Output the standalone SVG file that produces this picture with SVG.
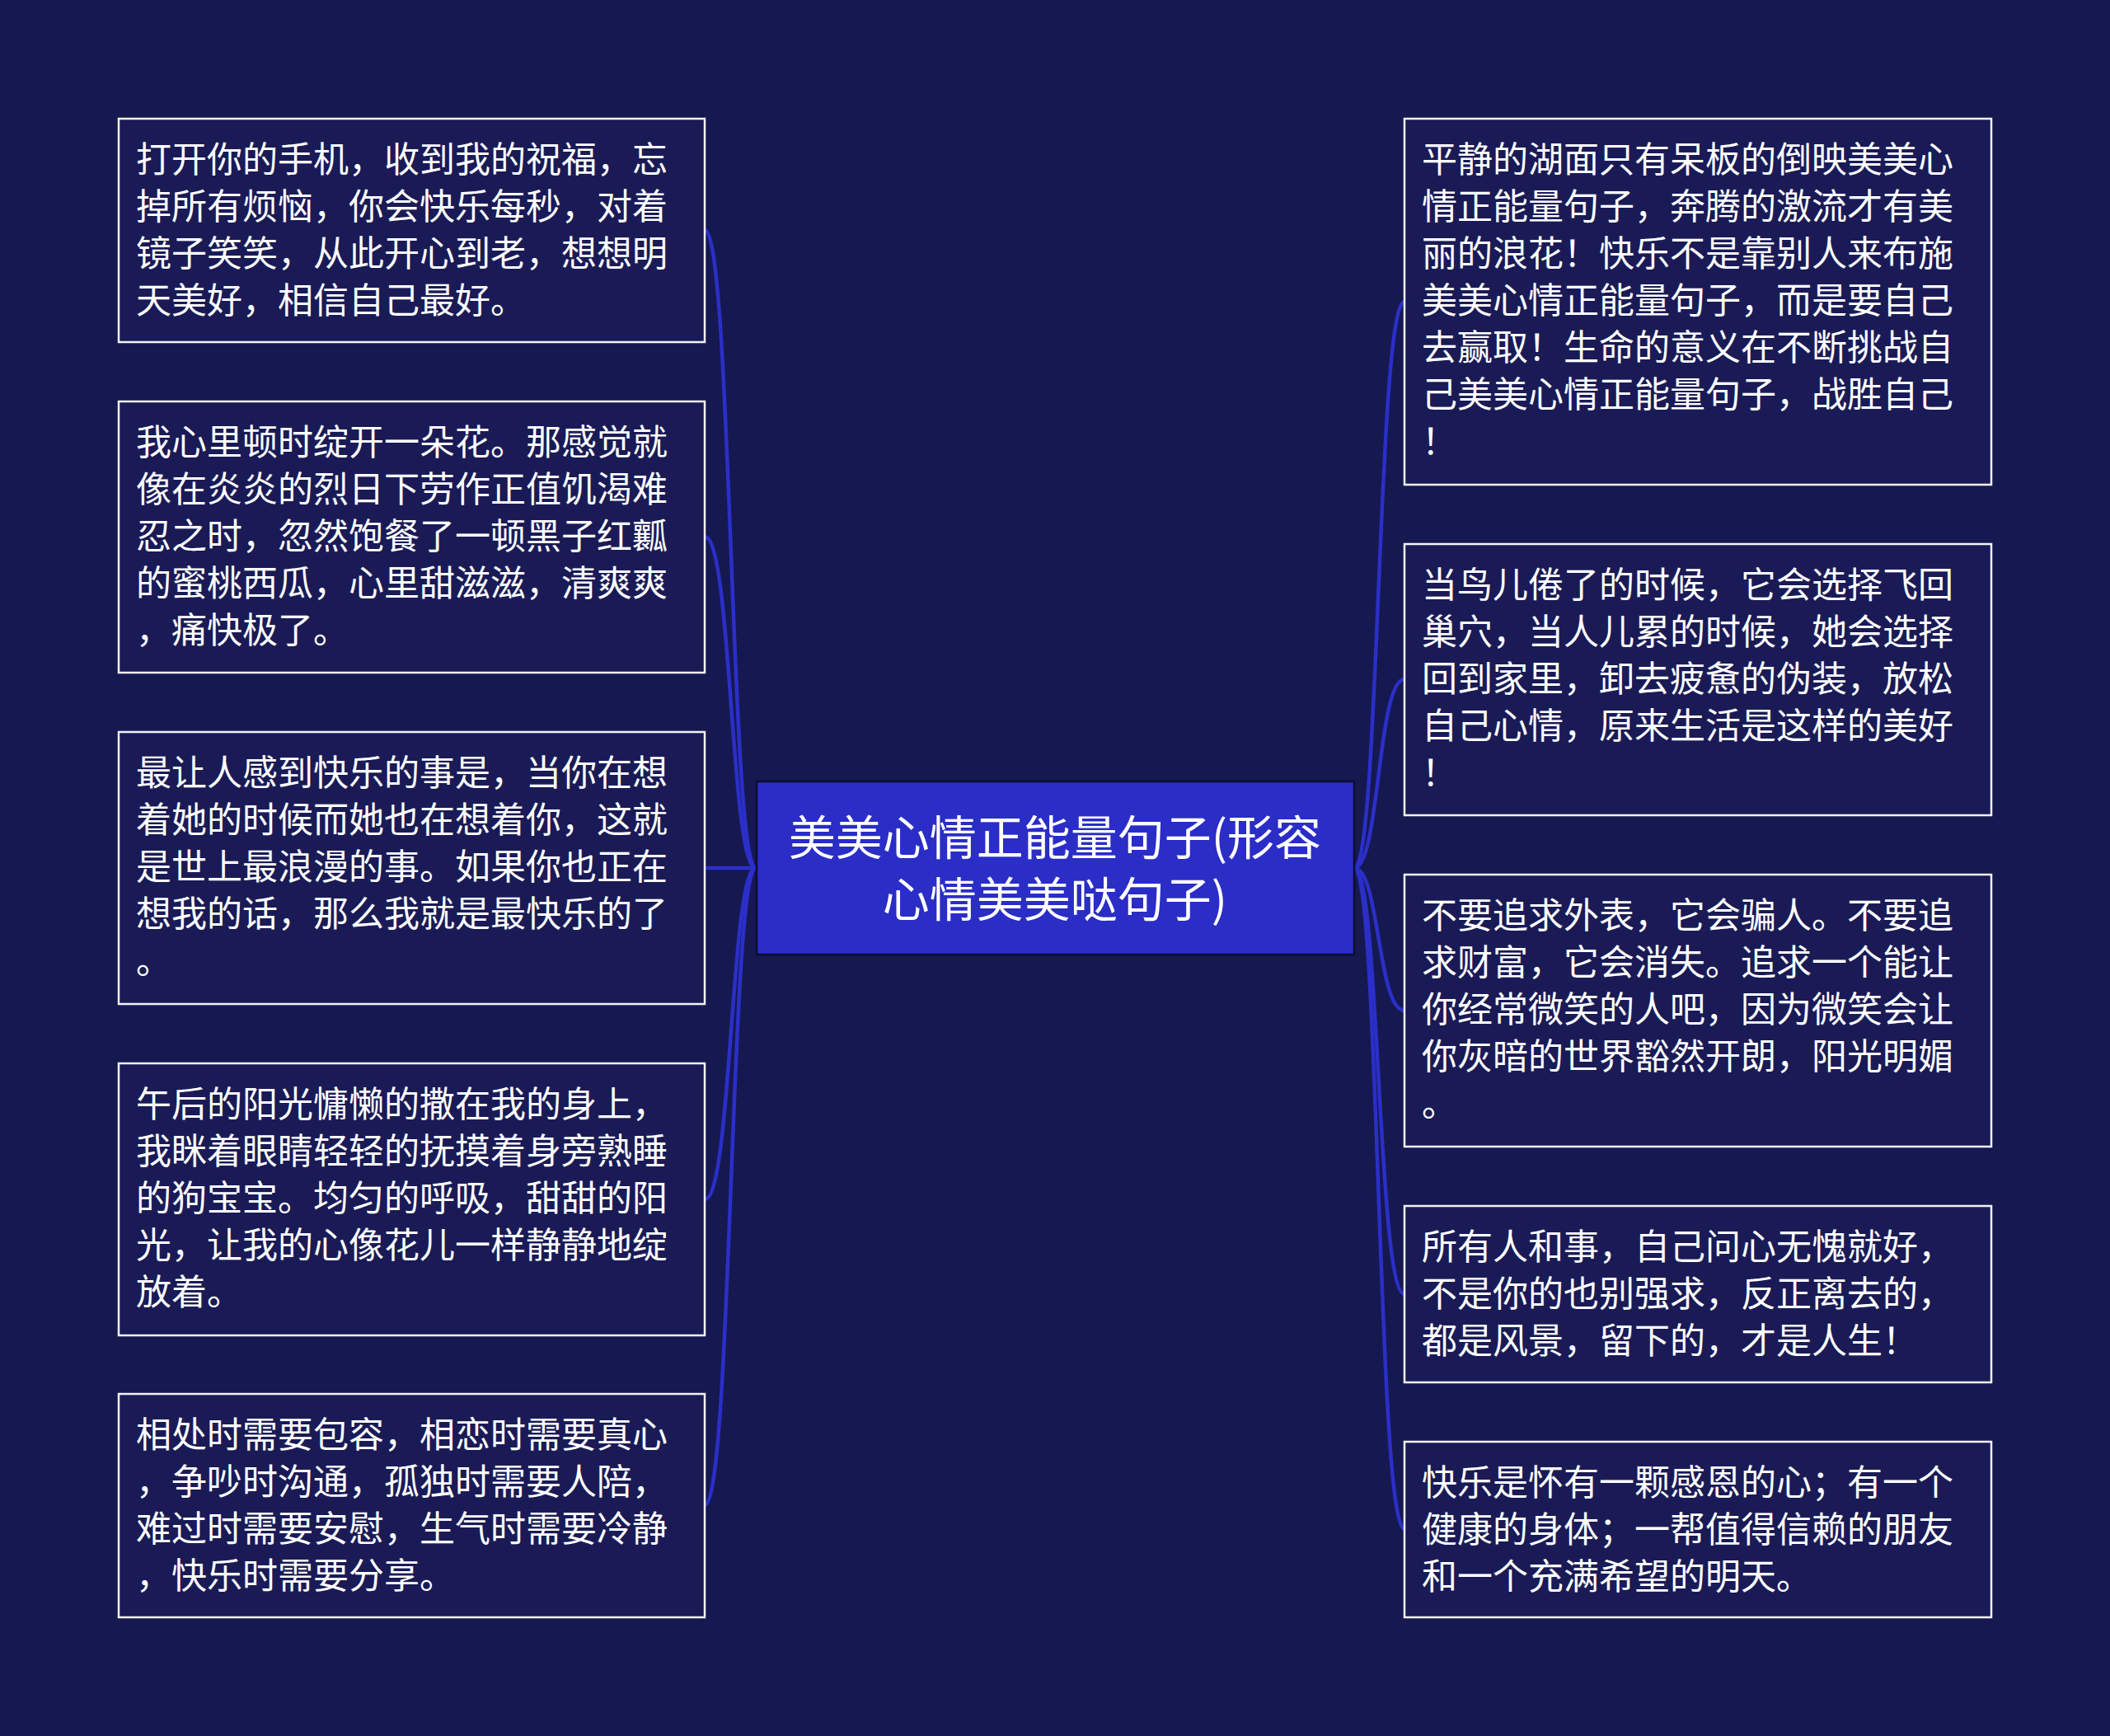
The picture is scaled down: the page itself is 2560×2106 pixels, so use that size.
<svg xmlns="http://www.w3.org/2000/svg" width="2560" height="2106" viewBox="0 0 2560 2106">
<style>
.bg{fill:#161850}
.box{fill:#1a1b56;stroke:#f2f2f7;stroke-width:2.5}
.t{font-family:"Noto Sans CJK SC","Noto Sans",sans-serif;font-size:43px;fill:#ffffff}
.ct{font-family:"Noto Sans CJK SC","Noto Sans",sans-serif;font-size:57px;fill:#ffffff;text-anchor:middle}
.c{fill:none;stroke:#2b2fc8;stroke-width:4.5;stroke-linecap:round}
</style>
<rect class="bg" x="0" y="0" width="2560" height="2106"/>
<g id="connectors">
<path class="c" d="M855 279 C888 279 886 1053 917 1053"/>
<path class="c" d="M855 651 C888 651 886 1053 917 1053"/>
<path class="c" d="M855 1053 L917 1053"/>
<path class="c" d="M855 1455 C888 1455 886 1053 917 1053"/>
<path class="c" d="M855 1826 C888 1826 886 1053 917 1053"/>
<path class="c" d="M1704 366 C1671 366 1674 1053 1643 1053"/>
<path class="c" d="M1704 824 C1671 824 1674 1053 1643 1053"/>
<path class="c" d="M1704 1226 C1671 1226 1674 1053 1643 1053"/>
<path class="c" d="M1704 1570 C1671 1570 1674 1053 1643 1053"/>
<path class="c" d="M1704 1855 C1671 1855 1674 1053 1643 1053"/>
</g>
<g id="center">
<rect x="918" y="948" width="725" height="210" fill="#2a2dc6" stroke="#0c0e30" stroke-width="2.5"/>
<text class="ct" x="1280" y="1037">美美心情正能量句子(形容</text>
<text class="ct" x="1280" y="1112">心情美美哒句子)</text>
</g>
<g id="L1">
<rect class="box" x="144" y="144" width="711" height="271"/>
<text class="t"><tspan x="165" y="209">打开你的手机，收到我的祝福，忘</tspan><tspan x="165" dy="57">掉所有烦恼，你会快乐每秒，对着</tspan><tspan x="165" dy="57">镜子笑笑，从此开心到老，想想明</tspan><tspan x="165" dy="57">天美好，相信自己最好。</tspan></text>
</g>
<g id="L2">
<rect class="box" x="144" y="487" width="711" height="329"/>
<text class="t"><tspan x="165" y="552">我心里顿时绽开一朵花。那感觉就</tspan><tspan x="165" dy="57">像在炎炎的烈日下劳作正值饥渴难</tspan><tspan x="165" dy="57">忍之时，忽然饱餐了一顿黑子红瓤</tspan><tspan x="165" dy="57">的蜜桃西瓜，心里甜滋滋，清爽爽</tspan><tspan x="165" dy="57">，痛快极了。</tspan></text>
</g>
<g id="L3">
<rect class="box" x="144" y="888" width="711" height="330"/>
<text class="t"><tspan x="165" y="953">最让人感到快乐的事是，当你在想</tspan><tspan x="165" dy="57">着她的时候而她也在想着你，这就</tspan><tspan x="165" dy="57">是世上最浪漫的事。如果你也正在</tspan><tspan x="165" dy="57">想我的话，那么我就是最快乐的了</tspan><tspan x="165" dy="57">。</tspan></text>
</g>
<g id="L4">
<rect class="box" x="144" y="1290" width="711" height="330"/>
<text class="t"><tspan x="165" y="1355">午后的阳光慵懒的撒在我的身上，</tspan><tspan x="165" dy="57">我眯着眼睛轻轻的抚摸着身旁熟睡</tspan><tspan x="165" dy="57">的狗宝宝。均匀的呼吸，甜甜的阳</tspan><tspan x="165" dy="57">光，让我的心像花儿一样静静地绽</tspan><tspan x="165" dy="57">放着。</tspan></text>
</g>
<g id="L5">
<rect class="box" x="144" y="1691" width="711" height="271"/>
<text class="t"><tspan x="165" y="1756">相处时需要包容，相恋时需要真心</tspan><tspan x="165" dy="57">，争吵时沟通，孤独时需要人陪，</tspan><tspan x="165" dy="57">难过时需要安慰，生气时需要冷静</tspan><tspan x="165" dy="57">，快乐时需要分享。</tspan></text>
</g>
<g id="R1">
<rect class="box" x="1704" y="144" width="712" height="444"/>
<text class="t"><tspan x="1725" y="209">平静的湖面只有呆板的倒映美美心</tspan><tspan x="1725" dy="57">情正能量句子，奔腾的激流才有美</tspan><tspan x="1725" dy="57">丽的浪花！快乐不是靠别人来布施</tspan><tspan x="1725" dy="57">美美心情正能量句子，而是要自己</tspan><tspan x="1725" dy="57">去赢取！生命的意义在不断挑战自</tspan><tspan x="1725" dy="57">己美美心情正能量句子，战胜自己</tspan><tspan x="1725" dy="57">！</tspan></text>
</g>
<g id="R2">
<rect class="box" x="1704" y="660" width="712" height="329"/>
<text class="t"><tspan x="1725" y="725">当鸟儿倦了的时候，它会选择飞回</tspan><tspan x="1725" dy="57">巢穴，当人儿累的时候，她会选择</tspan><tspan x="1725" dy="57">回到家里，卸去疲惫的伪装，放松</tspan><tspan x="1725" dy="57">自己心情，原来生活是这样的美好</tspan><tspan x="1725" dy="57">！</tspan></text>
</g>
<g id="R3">
<rect class="box" x="1704" y="1061" width="712" height="330"/>
<text class="t"><tspan x="1725" y="1126">不要追求外表，它会骗人。不要追</tspan><tspan x="1725" dy="57">求财富，它会消失。追求一个能让</tspan><tspan x="1725" dy="57">你经常微笑的人吧，因为微笑会让</tspan><tspan x="1725" dy="57">你灰暗的世界豁然开朗，阳光明媚</tspan><tspan x="1725" dy="57">。</tspan></text>
</g>
<g id="R4">
<rect class="box" x="1704" y="1463" width="712" height="214"/>
<text class="t"><tspan x="1725" y="1528">所有人和事，自己问心无愧就好，</tspan><tspan x="1725" dy="57">不是你的也别强求，反正离去的，</tspan><tspan x="1725" dy="57">都是风景，留下的，才是人生！</tspan></text>
</g>
<g id="R5">
<rect class="box" x="1704" y="1749" width="712" height="213"/>
<text class="t"><tspan x="1725" y="1814">快乐是怀有一颗感恩的心；有一个</tspan><tspan x="1725" dy="57">健康的身体；一帮值得信赖的朋友</tspan><tspan x="1725" dy="57">和一个充满希望的明天。</tspan></text>
</g>
</svg>
